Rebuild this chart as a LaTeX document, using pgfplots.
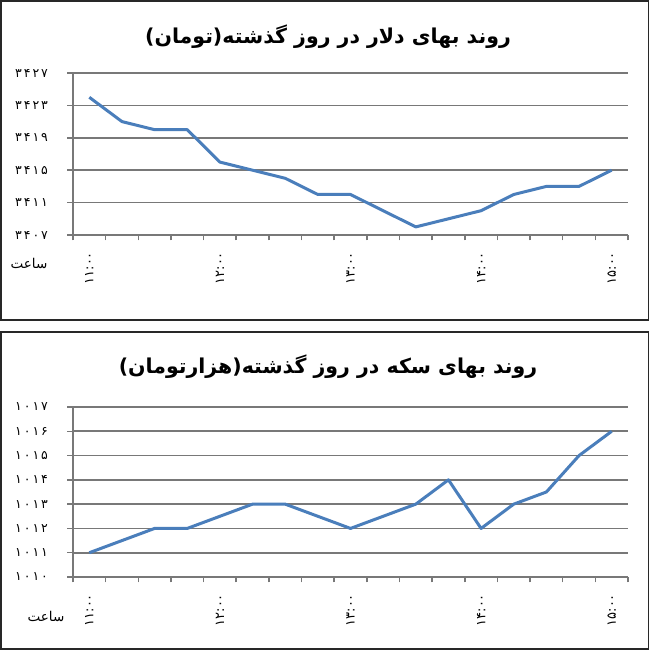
\documentclass[border=0pt]{standalone}
\usepackage{fontspec}
\usepackage{pgfplots}
\pgfplotsset{compat=1.18}
\TeXXeTstate=1
\newfontfamily\arabicfont[Script=Arabic]{DejaVu Sans}
\definecolor{lineblue}{RGB}{74,126,187}
\definecolor{gridgray}{RGB}{120,120,120}
\definecolor{framegray}{RGB}{40,40,40}
\newcommand{\dg}{\hspace{2pt}}

\pgfplotstableread{
x y
1 3424
2 3421
3 3420
4 3420
5 3416
6 3415
7 3414
8 3412
9 3412
10 3410
11 3408
12 3409
13 3410
14 3412
15 3413
16 3413
17 3415
}\dollar

\pgfplotstableread{
x y
1 1011
2 1011.5
3 1012
4 1012
5 1012.5
6 1013
7 1013
8 1012.5
9 1012
10 1012.5
11 1013
12 1014
13 1012
14 1013
15 1013.5
16 1015
17 1016
}\coin

\pgfplotsset{panel/.style={
  scale only axis, width=555pt,
  xmin=0.5, xmax=17.5,
  axis x line*=bottom, axis y line*=left,
  axis line style={gridgray, line width=1.6pt, -},
  xtick={0.5,1.5,2.5,3.5,4.5,5.5,6.5,7.5,8.5,9.5,10.5,11.5,12.5,13.5,14.5,15.5,16.5,17.5},
  xticklabels={\mbox{۱۱:۰۰},,,,\mbox{۱۲:۰۰},,,,\mbox{۱۳:۰۰},,,,\mbox{۱۴:۰۰},,,,\mbox{۱۵:۰۰},},
  tick align=outside, major tick length=5.5pt,
  tick style={draw=gridgray, line width=1.5pt},
  ymajorgrids, grid style={gridgray, line width=1.6pt},
  tick label style={font=\arabicfont\fontsize{13}{13}\selectfont, black},
  xticklabel style={xshift=16.3pt, rotate=90, anchor=east, xshift=-8pt},
  yticklabel style={font=\arabicfont\fontsize{12.5}{12.5}\selectfont, xshift=-16pt},
  clip=false,
}}

\begin{document}
\begin{tikzpicture}
\useasboundingbox (0pt,0pt) rectangle (650pt,650pt);
\draw[framegray, line width=1.5pt] (1pt,330pt) rectangle (648.5pt,649pt);
\draw[framegray, line width=1.5pt] (1pt,1pt) rectangle (648.5pt,318pt);

\node[font=\arabicfont\bfseries\fontsize{20.5}{20.5}\selectfont] at (328pt,613pt) {\beginR روند بهای دلار در روز گذشته(تومان)\endR};
\node[font=\arabicfont\bfseries\fontsize{20.5}{20.5}\selectfont] at (328pt,283pt) {\beginR روند بهای سکه در روز گذشته(هزارتومان)\endR};
\node[font=\arabicfont\fontsize{13.5}{13.5}\selectfont] at (29pt,387pt) {\beginR ساعت\endR};
\node[font=\arabicfont\fontsize{13.5}{13.5}\selectfont] at (46pt,34pt) {\beginR ساعت\endR};

\begin{axis}[panel, at={(73pt,415pt)}, anchor=south west, height=162pt,
  ymin=3407, ymax=3427, ytick={3407,3411,3415,3419,3423,3427},
  yticklabels={\mbox{۳\dg۴\dg۰\dg۷},\mbox{۳\dg۴\dg۱\dg۱},\mbox{۳\dg۴\dg۱\dg۵},\mbox{۳\dg۴\dg۱\dg۹},\mbox{۳\dg۴\dg۲\dg۳},\mbox{۳\dg۴\dg۲\dg۷}}]
\addplot[lineblue, line width=3pt, line join=round] table[x=x,y=y] {\dollar};
\end{axis}

\begin{axis}[panel, at={(73pt,73pt)}, anchor=south west, height=170pt,
  ymin=1010, ymax=1017, ytick={1010,1011,...,1017},
  yticklabels={\mbox{۱\dg۰\dg۱\dg۰},\mbox{۱\dg۰\dg۱\dg۱},\mbox{۱\dg۰\dg۱\dg۲},\mbox{۱\dg۰\dg۱\dg۳},\mbox{۱\dg۰\dg۱\dg۴},\mbox{۱\dg۰\dg۱\dg۵},\mbox{۱\dg۰\dg۱\dg۶},\mbox{۱\dg۰\dg۱\dg۷}}]
\addplot[lineblue, line width=3pt, line join=round] table[x=x,y=y] {\coin};
\end{axis}
\end{tikzpicture}
\end{document}
